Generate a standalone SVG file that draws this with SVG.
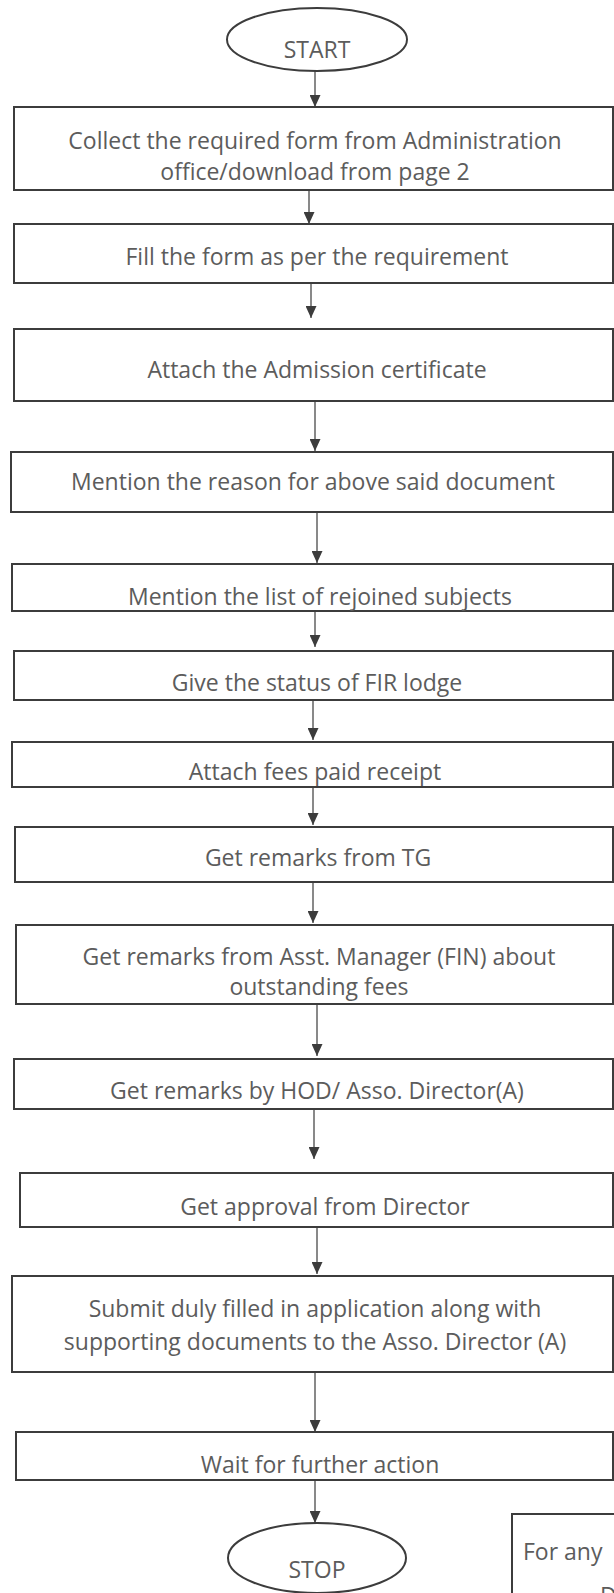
<svg xmlns="http://www.w3.org/2000/svg" width="614" height="1593" viewBox="0 0 614 1593">
<style>
.box{fill:#ffffff;stroke:#3c3c3c;stroke-width:2}
.term{fill:#ffffff;stroke:#3c3c3c;stroke-width:2}
.lbl{font-family:"Open Sans","Noto Sans","DejaVu Sans",sans-serif;font-size:23px;fill:#5c5c5c;text-anchor:middle}
.lbl-start{font-family:"Open Sans","Noto Sans","DejaVu Sans",sans-serif;font-size:23px;fill:#5c5c5c;text-anchor:start}
.conn{stroke:#4a4a4a;stroke-width:1.3;fill:none}
</style>
<defs>
<marker id="arr" markerUnits="userSpaceOnUse" markerWidth="12" markerHeight="11" refX="12" refY="5.5" orient="auto">
<path d="M0,0 L12,5.5 L0,11 z" fill="#3c3c3c"/>
</marker>
</defs>
<rect width="614" height="1593" fill="#ffffff"/>
<g id="connectors">
<line class="conn" x1="315" y1="71" x2="315" y2="107" marker-end="url(#arr)"/>
<line class="conn" x1="309" y1="190" x2="309" y2="224" marker-end="url(#arr)"/>
<line class="conn" x1="311" y1="283" x2="311" y2="318" marker-end="url(#arr)"/>
<line class="conn" x1="315" y1="401" x2="315" y2="451" marker-end="url(#arr)"/>
<line class="conn" x1="317" y1="512" x2="317" y2="563" marker-end="url(#arr)"/>
<line class="conn" x1="315" y1="611" x2="315" y2="647" marker-end="url(#arr)"/>
<line class="conn" x1="313" y1="700" x2="313" y2="740" marker-end="url(#arr)"/>
<line class="conn" x1="313" y1="787" x2="313" y2="825" marker-end="url(#arr)"/>
<line class="conn" x1="313" y1="882" x2="313" y2="923" marker-end="url(#arr)"/>
<line class="conn" x1="317" y1="1004" x2="317" y2="1056" marker-end="url(#arr)"/>
<line class="conn" x1="314" y1="1109" x2="314" y2="1159" marker-end="url(#arr)"/>
<line class="conn" x1="317" y1="1227" x2="317" y2="1274" marker-end="url(#arr)"/>
<line class="conn" x1="315" y1="1372" x2="315" y2="1432" marker-end="url(#arr)"/>
<line class="conn" x1="315" y1="1480" x2="315" y2="1523" marker-end="url(#arr)"/>
</g>
<g id="start">
<ellipse class="term" cx="317" cy="39.5" rx="90" ry="31.5"/>
<text class="lbl" x="317" y="58">START</text>
</g>
<g id="step1">
<rect class="box" x="14" y="107" width="599" height="83"/>
<text class="lbl" x="315" y="149">Collect the required form from Administration</text>
<text class="lbl" x="315" y="180">office/download from page 2</text>
</g>
<g id="step2">
<rect class="box" x="14" y="224" width="599" height="59"/>
<text class="lbl" x="317" y="265">Fill the form as per the requirement</text>
</g>
<g id="step3">
<rect class="box" x="14" y="329" width="599" height="72"/>
<text class="lbl" x="317" y="378">Attach the Admission certificate</text>
</g>
<g id="step4">
<rect class="box" x="11" y="452" width="602" height="60"/>
<text class="lbl" x="313" y="490">Mention the reason for above said document</text>
</g>
<g id="step5">
<rect class="box" x="12" y="564" width="601" height="47"/>
<text class="lbl" x="320" y="605">Mention the list of rejoined subjects</text>
</g>
<g id="step6">
<rect class="box" x="14" y="651" width="599" height="49"/>
<text class="lbl" x="317" y="691">Give the status of FIR lodge</text>
</g>
<g id="step7">
<rect class="box" x="12" y="742" width="601" height="45"/>
<text class="lbl" x="315" y="780">Attach fees paid receipt</text>
</g>
<g id="step8">
<rect class="box" x="15" y="827" width="598" height="55"/>
<text class="lbl" x="318" y="866">Get remarks from TG</text>
</g>
<g id="step9">
<rect class="box" x="16" y="925" width="597" height="79"/>
<text class="lbl" x="319" y="965">Get remarks from Asst. Manager (FIN) about</text>
<text class="lbl" x="319" y="995">outstanding fees</text>
</g>
<g id="step10">
<rect class="box" x="14" y="1059" width="599" height="50"/>
<text class="lbl" x="317" y="1099">Get remarks by HOD/ Asso. Director(A)</text>
</g>
<g id="step11">
<rect class="box" x="20" y="1173" width="593" height="54"/>
<text class="lbl" x="325" y="1215">Get approval from Director</text>
</g>
<g id="step12">
<rect class="box" x="12" y="1276" width="601" height="96"/>
<text class="lbl" x="315" y="1317">Submit duly filled in application along with</text>
<text class="lbl" x="315" y="1350">supporting documents to the Asso. Director (A)</text>
</g>
<g id="step13">
<rect class="box" x="16" y="1432" width="597" height="48"/>
<text class="lbl" x="320" y="1473">Wait for further action</text>
</g>
<g id="stop">
<ellipse class="term" cx="317" cy="1558" rx="89" ry="35"/>
<text class="lbl" x="317" y="1578">STOP</text>
</g>
<g id="note">
<rect class="box" x="512" y="1514" width="120" height="100" stroke-width="2.5"/>
<text class="lbl-start" x="523" y="1560">For any</text>
<text class="lbl-start" x="600" y="1604">D</text>
</g>
</svg>
